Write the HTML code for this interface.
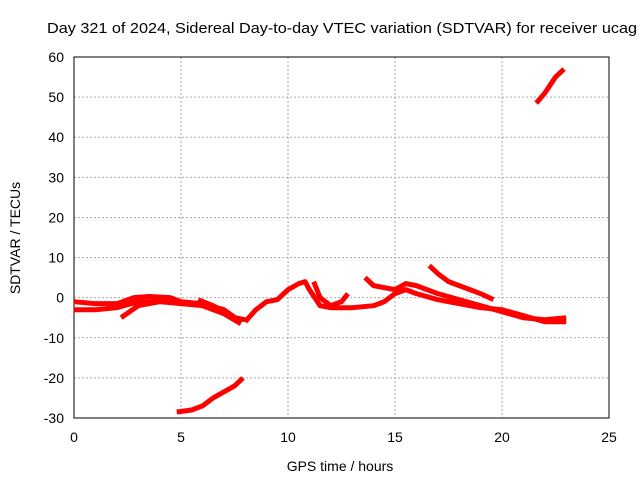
<!DOCTYPE html>
<html><head><meta charset="utf-8"><style>
body{margin:0;background:#fff;}
svg{font-family:"Liberation Sans",sans-serif;font-size:14px;}
</style></head><body>
<svg id="c" width="640" height="480"></svg>
<script>
const xTicks=[0,5,10,15,20,25];
const yTicks=[-30,-20,-10,0,10,20,30,40,50,60];
const s1x=[0,1,2,2.8,3.5,4.5,5,6,7,7.8];
const s1y=[-1,-1.5,-1.5,0,0.3,0,-1,-1.5,-3,-6];
const s2x=[0,1,2,3,4,5,6,7,7.8];
const s2y=[-3,-3,-2.5,-1,-1,-1.5,-2,-4,-6.5];
const s3x=[2.2,3,4,5];
const s3y=[-5,-2,-1,-1];
const s4x=[5.8,6.5,7.5,8];
const s4y=[-0.5,-2,-5,-5.5];
const s5x=[4.8,5.5,6,6.5,7,7.5,7.9];
const s5y=[-28.5,-28,-27,-25,-23.5,-22,-20];
const s6x=[8,8.5,9,9.5,10,10.5,10.8,11,11.5,12,13,14,14.5,15,15.5,16,17,18,19,20,21,22,23];
const s6y=[-6,-3,-1,-0.5,2,3.5,4,2,-2,-2.5,-2.5,-2,-1,1,2,1,-0.5,-1.5,-2.5,-3,-4.5,-6,-6];
const s7x=[13.6,14,15,15.5,16,17,18,19,20,21,22,23];
const s7y=[5,3,2,3.5,3,1,-0.5,-2,-3.5,-5,-5.5,-5];
const s8x=[16.6,17,17.5,18.5,19,19.6];
const s8y=[8,6,4,2,1,-0.5];
const s9x=[21.6,22,22.5,22.9];
const s9y=[48.5,51,55,57];
const s10x=[11.2,11.5,12,12.5,12.8];
const s10y=[4,0,-2,-1,1];
const series=[[s1x,s1y],[s2x,s2y],[s3x,s3y],[s4x,s4y],[s5x,s5y],[s6x,s6y],[s7x,s7y],[s8x,s8y],[s9x,s9y],[s10x,s10y]];
const L=74,R=609,T=57,B=418;
const X=v=>L+(v-0)/25*(R-L);
const Y=v=>B-(v+30)/90*(B-T);
const svg=document.getElementById('c');
const NS='http://www.w3.org/2000/svg';
function mk(t,a){const e=document.createElementNS(NS,t);for(const k in a)e.setAttribute(k,a[k]);svg.appendChild(e);return e;}
xTicks.forEach(v=>{
 if(v>0&&v<25){const g=mk('line',{x1:X(v),x2:X(v),y1:T,y2:B,stroke:'#aaa','stroke-dasharray':'2,2'});
 
 }
 const t=mk('text',{x:X(v),y:B+24,'text-anchor':'middle'});t.textContent=v;
 
 
});
yTicks.forEach(v=>{
 if(v>-30&&v<60){const g=mk('line',{x1:L,x2:R,y1:Y(v),y2:Y(v),stroke:'#aaa','stroke-dasharray':'2,2'});
 
 }
 const t=mk('text',{x:L-10,y:Y(v)+5,'text-anchor':'end'});t.textContent=v;
 
 
});
const fr=mk('rect',{x:L,y:T,width:R-L,height:B-T,fill:'none',stroke:'#000'});


series.forEach(s=>{
 const p=s[0].map((x,i)=>X(x)+','+Y(s[1][i])).join(' ');
 const pl=mk('polyline',{points:p,fill:'none',stroke:'#f00','stroke-width':5,'stroke-linejoin':'round'});
 
 
});
const ti=mk('text',{x:47,y:33,'text-anchor':'start',textLength:590,lengthAdjust:'spacingAndGlyphs','font-size':'15'});ti.textContent='Day 321 of 2024, Sidereal Day-to-day VTEC variation (SDTVAR) for receiver ucag';


const xt=mk('text',{x:340,y:471,'text-anchor':'middle'});xt.textContent='GPS time / hours';


const yt=mk('text',{x:0,y:0,'text-anchor':'middle',transform:'translate(20,238) rotate(-90)'});yt.textContent='SDTVAR / TECUs';


</script>
</body></html>
